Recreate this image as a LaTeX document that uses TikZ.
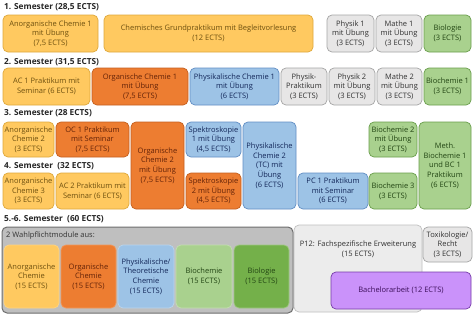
\documentclass[tikz,border=0pt]{standalone}
\usepackage{fontspec}
\setmainfont{Open Sans}
\usepackage{tikz}
\usetikzlibrary{positioning}
\definecolor{ylwfill}{RGB}{255, 201, 96}
\definecolor{ylwdraw}{RGB}{222, 168, 60}
\definecolor{ylwtext}{RGB}{110, 80, 15}
\definecolor{orgfill}{RGB}{237, 125, 49}
\definecolor{orgdraw}{RGB}{196, 96, 32}
\definecolor{orgtext}{RGB}{100, 35, 8}
\definecolor{blufill}{RGB}{157, 195, 230}
\definecolor{bludraw}{RGB}{98, 142, 196}
\definecolor{blutext}{RGB}{20, 40, 90}
\definecolor{gryfill}{RGB}{231, 230, 230}
\definecolor{grydraw}{RGB}{165, 165, 165}
\definecolor{grytext}{RGB}{50, 50, 50}
\definecolor{grnfill}{RGB}{169, 209, 142}
\definecolor{grndraw}{RGB}{106, 158, 76}
\definecolor{grntext}{RGB}{35, 70, 20}
\definecolor{grnbright}{RGB}{116, 176, 74}
\definecolor{purfill}{RGB}{202, 146, 250}
\definecolor{purdraw}{RGB}{118, 60, 168}
\definecolor{purtext}{RGB}{60, 15, 90}
\definecolor{bigfill}{RGB}{191, 191, 191}
\definecolor{bigdraw}{RGB}{110, 110, 110}
\definecolor{lightbg}{RGB}{236, 236, 236}

\begin{document}
\begin{tikzpicture}[
  x=1pt, y=-1pt,
  modul/.style={rounded corners=5pt, line width=0.7pt, align=center, inner sep=0.5pt, font=\fontsize{7.5}{9.7}\selectfont},
  ylw/.style={modul, draw=ylwdraw, fill=ylwfill, text=ylwtext},
  org/.style={modul, draw=orgdraw, fill=orgfill, text=orgtext},
  blu/.style={modul, draw=bludraw, fill=blufill, text=blutext},
  gry/.style={modul, draw=grydraw, fill=gryfill, text=grytext},
  grn/.style={modul, draw=grndraw, fill=grnfill, text=grntext},
  pur/.style={modul, draw=purdraw, fill=purfill, text=purtext},
  sem/.style={anchor=west, inner sep=0pt, text=black!85, font=\bfseries\fontsize{8.3}{9}\selectfont}
]
  \useasboundingbox[fill=white] (0,0) rectangle (474,316);

  % 1. Semester
  \node[sem] (s1) at (4,7) {1. Semester (28,5 ECTS)};
  \node[ylw, minimum width=95pt, minimum height=37pt] (ac1) at (50.5,33.5) {Anorganische Chemie 1\\mit Übung\\(7,5 ECTS)};
  \node[ylw, minimum width=209pt, minimum height=37pt] (gp) at (208.5,33.5) {Chemisches Grundpraktikum mit Begleitvorlesung\\(12 ECTS)};
  \node[gry, minimum width=47pt, minimum height=37pt] (ph1) at (350.5,33.5) {Physik 1\\mit Übung\\(3 ECTS)};
  \node[gry, minimum width=46pt, minimum height=37pt] (ma1) at (399,33.5) {Mathe 1\\mit Übung\\(3 ECTS)};
  \node[grn, minimum width=47pt, minimum height=37pt] (bio) at (447.5,33.5) {Biologie\\(3 ECTS)};

  % 2. Semester
  \node[sem] (s2) at (4,62) {2. Semester (31,5 ECTS)};
  \node[ylw, minimum width=87pt, minimum height=37pt] (acp1) at (46.5,86.5) {AC 1 Praktikum mit\\Seminar (6 ECTS)};
  \node[org, minimum width=96pt, minimum height=37pt] (oc1) at (140,86.5) {Organische Chemie 1\\mit Übung\\(7,5 ECTS)};
  \node[blu, minimum width=89pt, minimum height=37pt] (pc1) at (234.5,86.5) {Physikalische Chemie 1\\mit Übung\\(6 ECTS)};
  \node[gry, minimum width=46pt, minimum height=37pt] (php) at (304,86.5) {Physik-\\Praktikum\\(3 ECTS)};
  \node[gry, minimum width=46pt, minimum height=37pt] (ph2) at (352,86.5) {Physik 2\\mit Übung\\(3 ECTS)};
  \node[gry, minimum width=45pt, minimum height=37pt] (ma2) at (399.5,86.5) {Mathe 2\\mit Übung\\(3 ECTS)};
  \node[grn, minimum width=47pt, minimum height=37pt] (bc1) at (447.5,86.5) {Biochemie 1\\(3 ECTS)};

  % 3. Semester
  \node[sem] (s3) at (4,113) {3. Semester (28 ECTS)};
  \node[ylw, minimum width=51pt, minimum height=35pt] (ac2) at (28.5,139.5) {Anorganische\\Chemie 2\\(3 ECTS)};
  \node[org, minimum width=73pt, minimum height=35pt] (ocp1) at (92.5,139.5) {OC 1 Praktikum\\mit Seminar\\(7,5 ECTS)};
  \node[org, minimum width=53pt, minimum height=87pt] (oc2) at (157.5,165.5) {Organische\\Chemie 2\\mit Übung\\(7,5 ECTS)};
  \node[blu, minimum width=55pt, minimum height=35pt] (sp1) at (213.5,139.5) {Spektroskopie\\1 mit Übung\\(4,5 ECTS)};
  \node[blu, minimum width=53pt, minimum height=87pt] (pc2) at (269.5,165.5) {Physikalische\\Chemie 2\\(TC) mit\\Übung\\(6 ECTS)};
  \node[grn, minimum width=48pt, minimum height=35pt] (bc2) at (393,139.5) {Biochemie 2\\mit Übung\\(3 ECTS)};
  \node[grn, minimum width=52pt, minimum height=87pt] (mbc) at (445,165.5) {Meth.\\Biochemie 1\\und BC 1\\Praktikum\\(6 ECTS)};

  % 4. Semester
  \node[sem] (s4) at (4,166) {4. Semester~ (32 ECTS)};
  \node[ylw, minimum width=51pt, minimum height=36pt] (ac3) at (28.5,191) {Anorganische\\Chemie 3\\(3 ECTS)};
  \node[ylw, minimum width=73pt, minimum height=36pt] (acp2) at (92.5,191) {AC 2 Praktikum mit\\Seminar (6 ECTS)};
  \node[org, minimum width=55pt, minimum height=36pt] (sp2) at (213.5,191) {Spektroskopie\\2 mit Übung\\(4,5 ECTS)};
  \node[blu, minimum width=70pt, minimum height=36pt] (pcp1) at (333,191) {PC 1 Praktikum\\mit Seminar\\(6 ECTS)};
  \node[grn, minimum width=48pt, minimum height=36pt] (bc3) at (393,191) {Biochemie 3\\(3 ECTS)};

  % 5.-6. Semester
  \node[sem] (s5) at (4,219) {5.-6. Semester~ (60 ECTS)};
  \node[modul, draw=bigdraw, fill=bigfill, line width=1pt, minimum width=291pt, minimum height=86pt] (wp) at (147.5,270) {};
  \node[anchor=west, inner sep=0pt, text=black!80, font=\fontsize{7.5}{9}\selectfont] (wptitle) at (6,236) {2 Wahlpflichtmodule aus:};
  \node[ylw, draw=ylwfill!80!white, minimum width=55pt, minimum height=63pt] (wac) at (31.5,276.5) {Anorganische\\Chemie\\(15 ECTS)};
  \node[org, draw=orgfill!80!white, minimum width=55pt, minimum height=63pt] (woc) at (88.5,276.5) {Organische\\Chemie\\(15 ECTS)};
  \node[blu, draw=blufill!70!white, minimum width=56pt, minimum height=63pt] (wpc) at (146,276.5) {Physikalische/\\Theoretische\\Chemie\\(15 ECTS)};
  \node[grn, draw=grnfill!70!white, minimum width=56pt, minimum height=63pt] (wbc) at (204,276.5) {Biochemie\\(15 ECTS)};
  \node[grn, draw=grnbright!70!white, fill=grnbright, minimum width=55pt, minimum height=63pt] (wbio) at (261.5,276.5) {Biologie\\(15 ECTS)};

  \node[gry, draw=grydraw!70, fill=lightbg, minimum width=128pt, minimum height=87pt] (p12) at (358,268.5) {};
  \node[align=center, inner sep=0pt, text=grytext, font=\fontsize{7.5}{9.7}\selectfont] (p12text) at (358,249) {P12: Fachspezifische Erweiterung\\(15 ECTS)};
  \node[gry, minimum width=49pt, minimum height=35pt] (tox) at (447.5,244.5) {Toxikologie/\\Recht\\(3 ECTS)};
  \node[pur, minimum width=140pt, minimum height=37pt] (ba) at (401,290.5) {Bachelorarbeit (12 ECTS)};
\end{tikzpicture}
\end{document}
